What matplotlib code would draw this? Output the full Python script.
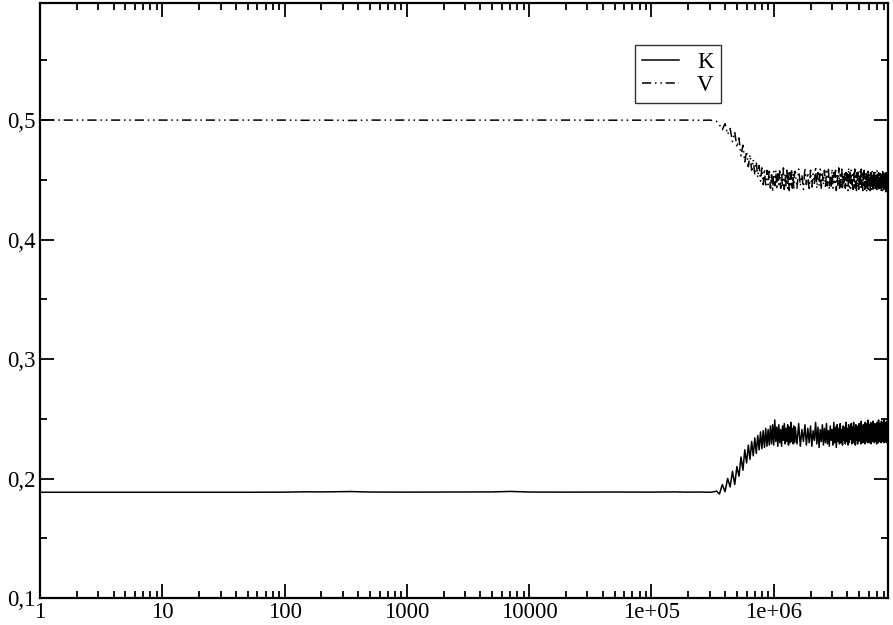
import matplotlib
matplotlib.use("Agg")
import matplotlib.pyplot as plt
from matplotlib.ticker import FixedLocator, FuncFormatter, LogLocator, NullFormatter, MultipleLocator

# sampling times: log-spaced early part, 2e4 steps through the transition, then 5e4 steps
t_early = [1, 2, 3, 5, 10, 20, 50, 100, 150, 200, 350, 500, 1000, 2000, 5000,
           7000, 10000, 20000, 50000, 100000, 150000, 200000, 250000]
t_mid = list(range(300000, 1500000, 20000))
t_late = list(range(1500000, 8600001, 50000))

K_early = [0.1885, 0.1885, 0.1885, 0.1885, 0.1885, 0.1885, 0.1885, 0.1886, 0.1889, 0.1888,
           0.1891, 0.1887, 0.1886, 0.1887, 0.1888, 0.1892, 0.1887, 0.1886, 0.1887, 0.1886,
           0.1888, 0.1886, 0.1887]
V_early = [0.500, 0.500, 0.500, 0.500, 0.500, 0.500, 0.500, 0.5, 0.4998, 0.5,
           0.4997, 0.5, 0.5, 0.4999, 0.5, 0.5, 0.5, 0.5, 0.4999, 0.5,
           0.5, 0.5, 0.4998]

K_mid = [
    0.1885, 0.1888, 0.1895, 0.1870, 0.195, 0.189, 0.200, 0.193, 0.206, 0.195,
    0.210, 0.202, 0.218, 0.207, 0.224, 0.213, 0.228, 0.216, 0.231, 0.219,
    0.234, 0.221, 0.236, 0.224, 0.239, 0.225, 0.240, 0.226, 0.242, 0.227,
    0.241, 0.228, 0.244, 0.229, 0.245, 0.228, 0.249, 0.231, 0.243, 0.227,
    0.245, 0.230, 0.241, 0.227, 0.244, 0.232, 0.246, 0.229, 0.242, 0.231,
    0.245, 0.228, 0.243, 0.230, 0.247, 0.231, 0.242, 0.229, 0.244, 0.230,
]
V_mid = [
    0.500, 0.4995, 0.499, 0.496, 0.492, 0.497, 0.488, 0.493, 0.482, 0.490,
    0.477, 0.485, 0.470, 0.479, 0.465, 0.474, 0.461, 0.471, 0.458, 0.467,
    0.454, 0.465, 0.452, 0.462, 0.449, 0.460, 0.446, 0.459, 0.444, 0.458,
    0.446, 0.459, 0.443, 0.456, 0.440, 0.457, 0.445, 0.458, 0.442, 0.455,
    0.446, 0.459, 0.443, 0.456, 0.444, 0.460, 0.442, 0.455, 0.445, 0.458,
    0.443, 0.457, 0.441, 0.456, 0.444, 0.459, 0.443, 0.455, 0.442, 0.457,
]

K_late = [
    0.243, 0.229, 0.246, 0.227, 0.241, 0.231, 0.245, 0.228, 0.242, 0.230,
    0.244, 0.227, 0.240, 0.232, 0.247, 0.229, 0.243, 0.226, 0.241, 0.231,
    0.245, 0.228, 0.242, 0.230, 0.246, 0.229, 0.240, 0.227, 0.244, 0.232,
    0.241, 0.228, 0.247, 0.230, 0.243, 0.226, 0.245, 0.231, 0.242, 0.229,
    0.246, 0.230, 0.241, 0.228, 0.244, 0.232, 0.243, 0.229, 0.247, 0.231,
    0.242, 0.228, 0.245, 0.230, 0.241, 0.233, 0.246, 0.229, 0.243, 0.231,
    0.247, 0.230, 0.242, 0.228, 0.245, 0.232, 0.244, 0.229, 0.241, 0.231,
    0.246, 0.233, 0.243, 0.229, 0.248, 0.231, 0.242, 0.230, 0.245, 0.232,
    0.244, 0.229, 0.247, 0.231, 0.243, 0.233, 0.246, 0.230, 0.249, 0.232,
    0.243, 0.230, 0.245, 0.232, 0.247, 0.229, 0.244, 0.233, 0.246, 0.231,
    0.248, 0.232, 0.243, 0.230, 0.246, 0.233, 0.245, 0.231, 0.244, 0.229,
    0.247, 0.232, 0.245, 0.230, 0.249, 0.233, 0.244, 0.231, 0.246, 0.232,
    0.245, 0.230, 0.248, 0.233, 0.244, 0.231, 0.247, 0.232, 0.246, 0.230,
    0.249, 0.233, 0.245, 0.231, 0.247, 0.232, 0.244, 0.230, 0.248, 0.233,
    0.246, 0.231, 0.248,
]
V_late = [
    0.457, 0.443, 0.459, 0.445, 0.454, 0.442, 0.460, 0.446, 0.456, 0.441,
    0.458, 0.444, 0.455, 0.447, 0.461, 0.443, 0.456, 0.445, 0.459, 0.442,
    0.455, 0.446, 0.458, 0.443, 0.457, 0.445, 0.460, 0.442, 0.454, 0.444,
    0.459, 0.443, 0.456, 0.446, 0.458, 0.441, 0.455, 0.445, 0.460, 0.443,
    0.456, 0.444, 0.459, 0.442, 0.454, 0.446, 0.457, 0.443, 0.458, 0.445,
    0.455, 0.441, 0.460, 0.444, 0.456, 0.443, 0.458, 0.446, 0.454, 0.442,
    0.457, 0.445, 0.459, 0.443, 0.455, 0.441, 0.456, 0.444, 0.458, 0.442,
    0.454, 0.446, 0.457, 0.443, 0.459, 0.444, 0.455, 0.441, 0.456, 0.445,
    0.458, 0.442, 0.454, 0.444, 0.457, 0.440, 0.455, 0.443, 0.459, 0.442,
    0.456, 0.445, 0.453, 0.441, 0.458, 0.444, 0.455, 0.442, 0.457, 0.443,
    0.454, 0.441, 0.456, 0.444, 0.453, 0.442, 0.457, 0.443, 0.455, 0.440,
    0.458, 0.444, 0.454, 0.442, 0.456, 0.441, 0.453, 0.443, 0.457, 0.442,
    0.455, 0.440, 0.456, 0.443, 0.454, 0.441, 0.458, 0.444, 0.453, 0.442,
    0.457, 0.441, 0.454, 0.443, 0.455, 0.440, 0.456, 0.442, 0.453, 0.441,
    0.455, 0.443, 0.457,
]

x_ticks = [1, 10, 100, 1000, 10000, 1e5, 1e6]
x_labels = ["1", "10", "100", "1000", "10000", "1e+05", "1e+06"]
y_ticks = [0.1, 0.2, 0.3, 0.4, 0.5]

t = t_early + t_mid + t_late
K = K_early + K_mid + K_late
V = V_early + V_mid + V_late

plt.rcParams["font.family"] = ["Liberation Serif", "DejaVu Serif"]
plt.rcParams["font.size"] = 16.5

fig = plt.figure(figsize=(8.93, 6.25), dpi=100)
ax = fig.add_axes([40 / 893, 27 / 625, 848 / 893, 595 / 625])

ax.plot(t, K, color="black", lw=1.1, label="K")
ax.plot(t, V, color="black", lw=1.1, dashes=(6, 2.5, 1, 2.5, 1, 2.5), label="V")

ax.set_xscale("log")
ax.set_xlim(1, 8.6e6)
ax.set_ylim(0.1, 0.598)

ax.xaxis.set_major_locator(FixedLocator(x_ticks))
ax.xaxis.set_major_formatter(FuncFormatter(
    lambda v, p: x_labels[x_ticks.index(v)] if v in x_ticks else ""))
ax.xaxis.set_minor_locator(LogLocator(base=10, subs=range(2, 10), numticks=20))
ax.xaxis.set_minor_formatter(NullFormatter())

ax.yaxis.set_major_locator(FixedLocator(y_ticks))
ax.yaxis.set_major_formatter(FuncFormatter(lambda v, p: f"{v:.1f}".replace(".", ",")))
ax.yaxis.set_minor_locator(MultipleLocator(0.05))

for s in ax.spines.values():
    s.set_linewidth(1.6)
ax.tick_params(which="both", direction="in", top=True, right=True, width=1.3)
ax.tick_params(which="major", length=10, pad=3)
ax.tick_params(which="minor", length=5)

leg = ax.legend(loc="upper left", bbox_to_anchor=(0.702, 0.93), frameon=True,
                fancybox=False, edgecolor="black", handlelength=1.6,
                handletextpad=0.8, borderpad=0.3, labelspacing=0.1,
                borderaxespad=0)
leg.get_frame().set_linewidth(1.0)

fig.savefig("out.png", dpi=100)
